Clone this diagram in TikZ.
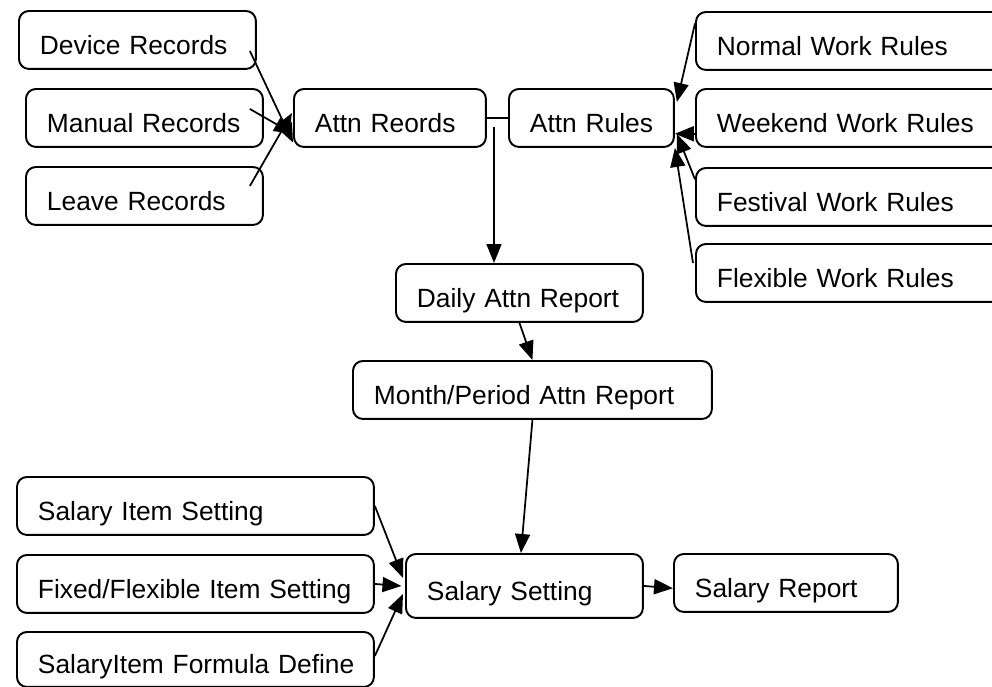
\documentclass[tikz,border=0pt]{standalone}
\usepackage{fontspec}
\setmainfont{Liberation Sans}
\usepackage{tikz}
\usetikzlibrary{arrows.meta}

\begin{document}
\begin{tikzpicture}[x=0.02cm, y=-0.02cm,
  box/.style={draw, rounded corners=2mm, line width=1.1pt, anchor=north west, align=left,
    minimum height=1.16cm, text height=0.6cm, text depth=0.03cm, inner xsep=0.42cm, inner ysep=0pt,
    font=\fontsize{15}{17}\selectfont, text width=#1,
    execute at begin node=\hbox\bgroup, execute at end node=\egroup},
  arr/.style={line width=1pt, -{Triangle[length=0.38cm, width=0.3cm]}}]
  \useasboundingbox (0,0) rectangle (992,687);
  \clip (0,0) rectangle (992,687);
  % records
  \node[box=3.9cm] (dev) at (18,10) {Device Records};
  \node[box=3.9cm] (man) at (25,88) {Manual Records};
  \node[box=3.9cm] (lea) at (25,166) {Leave Records};
  \node[box=3cm] (rec) at (293,88) {Attn Reords};
  \node[box=2.46cm] (rul) at (508,88) {Attn Rules};
  % rules
  \node[box=5.56cm] (nor) at (695,11) {Normal Work Rules};
  \node[box=5.56cm] (wee) at (695,88) {Weekend Work Rules};
  \node[box=5.56cm] (fes) at (695,167) {Festival Work Rules};
  \node[box=5.56cm] (fle) at (695,243) {Flexible Work Rules};
  % reports
  \node[box=4.1cm] (dai) at (395,263) {Daily Attn Report};
  \node[box=6.34cm] (mon) at (352,360) {Month/Period Attn Report};
  % salary
  \node[box=6.3cm] (sit) at (16,476) {Salary Item Setting};
  \node[box=6.3cm] (fix) at (16,554) {Fixed/Flexible Item Setting};
  \node[box=6.3cm, minimum height=1.1cm] (for) at (16,631) {SalaryItem Formula Define};
  \node[box=3.9cm, minimum height=1.28cm] (set) at (405,553) {Salary Setting};
  \node[box=3.64cm] (srep) at (673,553) {Salary Report};
  \coordinate (split) at (494,127);

  \draw[arr] ([shift={(-7,11)}]dev.east) -- ([yshift=-14]rec.west);
  \draw[arr] ([shift={(-14,-9)}]man.east) -- ([yshift=-9]rec.west);
  \draw[arr] ([shift={(-14,-10)}]lea.east) -- ([shift={(-1,-5)}]rec.west);
  \draw[line width=1pt] (rec) -- (rul);
  \draw[arr] (split) -- (split |- dai.north);
  \draw[arr] ([yshift=10]nor.west) -- ([shift={(2,-16)}]rul.east);
  \draw[arr] ([yshift=-9]wee.west) -- ([yshift=-9]rul.east);
  \draw[arr] ([yshift=10]fes.west) -- ([shift={(2,16)}]rul.east);
  \draw[arr] ([shift={(-2,-10)}]fle.west) -- (rul.south east);
  \draw[arr] (dai.south) -- (mon.north);
  \draw[arr] (mon.south) -- ([xshift=-2]set.north);
  \draw[arr] (sit.east) -- ([shift={(-2,-8)}]set.west);
  \draw[arr] (fix.east) -- ([xshift=-2]set.west);
  \draw[arr] ([yshift=2]for.east) -- ([shift={(-2,8)}]set.west);
  \draw[arr] (set.east) -- ([yshift=-3]srep.west);
\end{tikzpicture}
\end{document}
